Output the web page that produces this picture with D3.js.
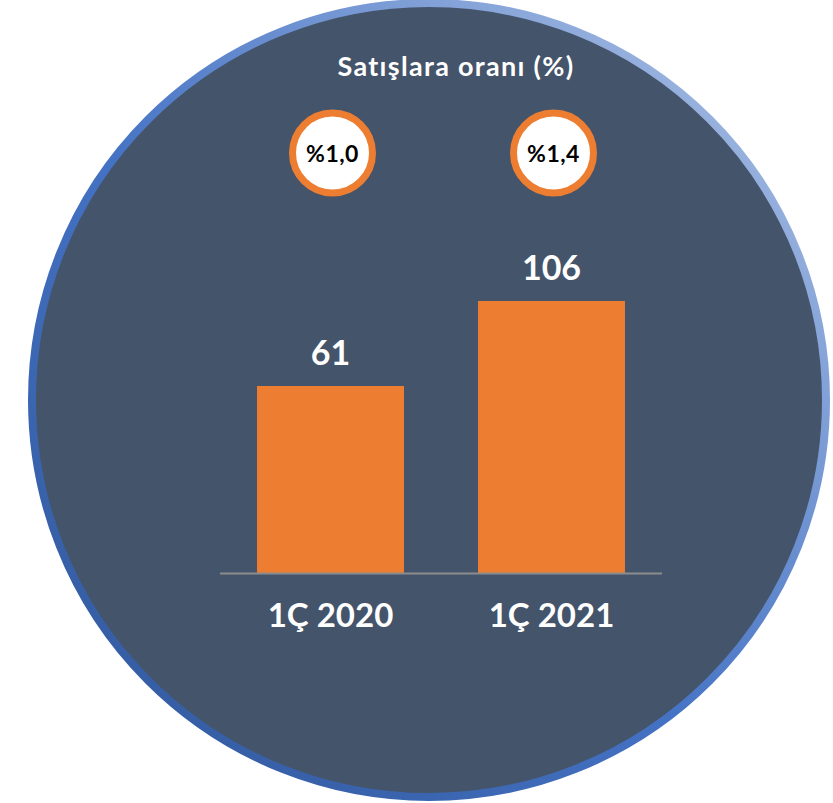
<!DOCTYPE html>
<html>
<head>
<meta charset="utf-8">
<script src="https://cdn.jsdelivr.net/npm/d3@7"></script>
<style>
body{margin:0;background:#fff;}
text{font-family:Lato,"Open Sans",sans-serif;font-weight:700;}
</style>
</head>
<body>
<script>
// data
var categories=["1Ç 2020","1Ç 2021"];
var values=[61,106];
var ratios=["%1,0","%1,4"];
var title="Satışlara oranı (%)";

var W=833,H=803;

var svg=d3.select("body").append("svg")
  .attr("width",W).attr("height",H);

// stroke gradient for big circle
var grad=svg.append("defs").append("linearGradient")
  .attr("id","ring").attr("x1","0").attr("y1","1").attr("x2","1").attr("y2","0");
grad.append("stop").attr("offset","0").attr("stop-color","#2f5597");
grad.append("stop").attr("offset","0.45").attr("stop-color","#4472c4");
grad.append("stop").attr("offset","1").attr("stop-color","#b4c7e7");

svg.append("circle")
  .attr("cx",429).attr("cy",400).attr("r",397)
  .attr("fill","#44546a")
  .attr("stroke","url(#ring)")
  .attr("stroke-width",8);

// scales
var x=d3.scaleBand().domain(categories).range([220,662])
  .paddingInner(0.335).paddingOuter(0.1675);
var y=d3.scaleLinear().domain([-38,106]).range([573,301]);

svg.append("text")
  .attr("x",456).attr("y",76)
  .attr("text-anchor","middle")
  .attr("fill","#fff")
  .attr("font-size",27)
  .attr("letter-spacing",1.3)
  .text(title);

// ratio bubbles
var bub=svg.selectAll("g.bub").data(categories).enter().append("g")
  .attr("class","bub")
  .attr("transform",function(d){return "translate("+(x(d)+x.bandwidth()/2+2)+",153)";});
bub.append("circle").attr("r",40)
  .attr("fill","#fff").attr("stroke","#ed7d31").attr("stroke-width",7);
bub.append("text")
  .attr("text-anchor","middle").attr("y",9)
  .attr("fill","#000").attr("font-size",23)
  .attr("letter-spacing",0.5)
  .text(function(d,i){return ratios[i];});

// bars
svg.selectAll("rect.bar").data(values).enter().append("rect")
  .attr("class","bar")
  .attr("x",function(d,i){return x(categories[i]);})
  .attr("y",function(d){return y(d);})
  .attr("width",x.bandwidth())
  .attr("height",function(d){return y(-38)-y(d);})
  .attr("fill","#ed7d31");

svg.selectAll("text.val").data(values).enter().append("text")
  .attr("class","val")
  .attr("x",function(d,i){return x(categories[i])+x.bandwidth()/2;})
  .attr("y",function(d){return y(d)-21;})
  .attr("text-anchor","middle")
  .attr("fill","#fff").attr("font-size",34)
  .text(function(d){return d;});

// baseline
svg.append("line")
  .attr("x1",220).attr("x2",662).attr("y1",573.5).attr("y2",573.5)
  .attr("stroke","#8c8c8c").attr("stroke-width",2);

svg.selectAll("text.cat").data(categories).enter().append("text")
  .attr("class","cat")
  .attr("x",function(d){return x(d)+x.bandwidth()/2;})
  .attr("y",627)
  .attr("text-anchor","middle")
  .attr("fill","#fff").attr("font-size",33)
  .text(function(d){return d;});
</script>
</body>
</html>
